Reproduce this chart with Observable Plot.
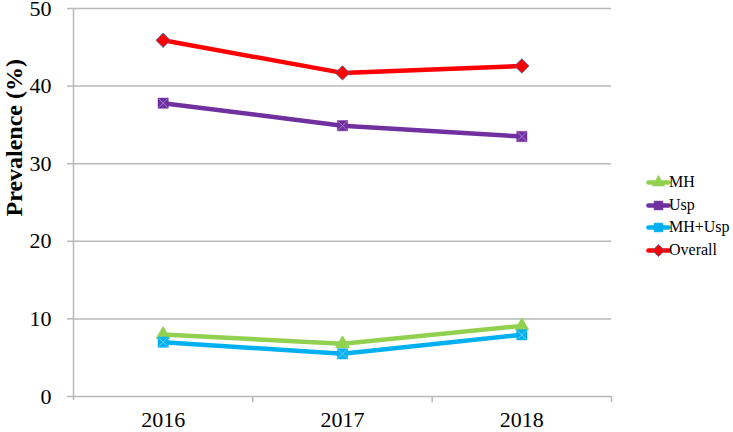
<!DOCTYPE html>
<html>
<head>
<meta charset="utf-8">
<script src="https://cdn.jsdelivr.net/npm/d3@7"></script>
<script src="https://cdn.jsdelivr.net/npm/@observablehq/plot@0.6"></script>
<style>
  html, body { margin: 0; padding: 0; background: #fff; }
  #wrap { position: relative; width: 733px; height: 432px; font-family: "Liberation Serif", "Times New Roman", serif; }
  #legend { position: absolute; left: 647px; top: 171px; font-family: "Liberation Serif", "Times New Roman", serif; font-size: 16px; color: #000; line-height: 22.5px; }
  #legend .item { display: flex; align-items: center; white-space: nowrap; height: 22.5px; }
  #legend .item span { font-family: "Liberation Serif", "Times New Roman", serif; }
  #legend svg { display: block; margin-right: 0px; }
</style>
</head>
<body>
<div id="wrap"></div>
<script>
const years = [2016, 2017, 2018];
const seriesNames = ["MH", "Usp", "MH+Usp", "Overall"];
const mhValues = [8.0, 6.8, 9.1];
const uspValues = [37.8, 34.9, 33.5];
const mhUspValues = [7.0, 5.5, 7.95];
const overallValues = [45.9, 41.7, 42.6];
const yTicks = [0, 10, 20, 30, 40, 50];
const xBoundaries = [2016.5, 2017.5, 2018.5];

const colors = { "MH": "#92D050", "Usp": "#7030A0", "MH+Usp": "#00B0F0", "Overall": "#FF0000" };
const symbols = { "MH": "triangle", "Usp": "square", "MH+Usp": "square", "Overall": "diamond2" };
const valuesBy = { "MH": mhValues, "Usp": uspValues, "MH+Usp": mhUspValues, "Overall": overallValues };

const data = seriesNames.flatMap(s => years.map((yr, i) => ({ series: s, year: yr, value: valuesBy[s][i] })));

const marks = [
  Plot.ruleY(yTicks, { stroke: "#b8b8b8", strokeWidth: 1.5 }),
  Plot.ruleX([2015.5], { y1: -0.5, y2: 50, stroke: "#b8b8b8", strokeWidth: 1.5 }),
  Plot.ruleX(xBoundaries, { y1: 0, y2: -0.8, stroke: "#b8b8b8", strokeWidth: 1.5 }),
  Plot.axisY({ ticks: yTicks, tickSize: 6, tickPadding: 16, fontSize: 22, stroke: "#b8b8b8", strokeWidth: 1.5, label: null }),
  Plot.axisX({ ticks: years, tickSize: 0, tickPadding: 15, fontSize: 22, tickFormat: d => String(d), label: null }),
  Plot.text(["Prevalence (%)"], { frameAnchor: "left", dx: -59, dy: 14, rotate: -90, fontSize: 24, fontWeight: "bold", fill: "#000" })
];
for (const s of seriesNames) {
  const d = data.filter(r => r.series === s);
  marks.push(Plot.line(d, { x: "year", y: "value", stroke: colors[s], strokeWidth: 4.5 }));
  if (s === "Overall") {
    marks.push(Plot.dot(d, { x: "year", y: "value", symbol: "diamond2", r: 6.5, fill: colors[s], stroke: "#2F6FC0", strokeWidth: 0.8 }));
  } else if (s === "MH") {
    marks.push(Plot.dot(d, { x: "year", y: "value", symbol: "triangle", r: 5, fill: colors[s], stroke: colors[s], strokeWidth: 1 }));
  } else {
    marks.push(Plot.dot(d, { x: "year", y: "value", symbol: "square", r: 5.8, fill: colors[s], stroke: colors[s], strokeWidth: 0.5 }));
    marks.push(Plot.dot(d, { x: "year", y: "value", symbol: "times", r: 4, stroke: s === "Usp" ? "#A07CC8" : "#6FD0F5", strokeWidth: 1 }));
  }
}

const chart = Plot.plot({
  width: 733,
  height: 432,
  marginLeft: 73,
  marginRight: 122,
  marginTop: 8,
  marginBottom: 36,
  style: { fontFamily: "Liberation Serif, Times New Roman, serif", color: "#000", background: "#fff", overflow: "visible" },
  x: { domain: [2015.5, 2018.5], axis: null },
  y: { domain: [0, 50], axis: null },
  marks
});

const wrap = document.getElementById("wrap");
wrap.appendChild(chart);

const legend = document.createElement("div");
legend.id = "legend";
for (const s of seriesNames) {
  const item = document.createElement("div");
  item.className = "item";
  const sw = Plot.plot({
    width: 22, height: 16, margin: 0,
    x: { domain: [0, 1], axis: null },
    y: { domain: [0, 1], axis: null },
    style: { background: "transparent", overflow: "visible" },
    marks: [
      Plot.line([{ a: 0.04, b: 0.5 }, { a: 0.96, b: 0.5 }], { x: "a", y: "b", stroke: colors[s], strokeWidth: 4.5 }),
      s === "Overall"
        ? Plot.dot([{ a: 0.5, b: 0.5 }], { x: "a", y: "b", symbol: "diamond2", r: 5.5, fill: colors[s], stroke: "#2F6FC0", strokeWidth: 0.8 })
        : Plot.dot([{ a: 0.5, b: 0.5 }], { x: "a", y: "b", symbol: symbols[s], r: s === "MH" ? 4.6 : 5, fill: colors[s], stroke: colors[s], strokeWidth: 0.5 })
    ]
  });
  item.appendChild(sw);
  const label = document.createElement("span");
  label.textContent = s;
  item.appendChild(label);
  legend.appendChild(item);
}
wrap.appendChild(legend);
</script>
</body>
</html>
